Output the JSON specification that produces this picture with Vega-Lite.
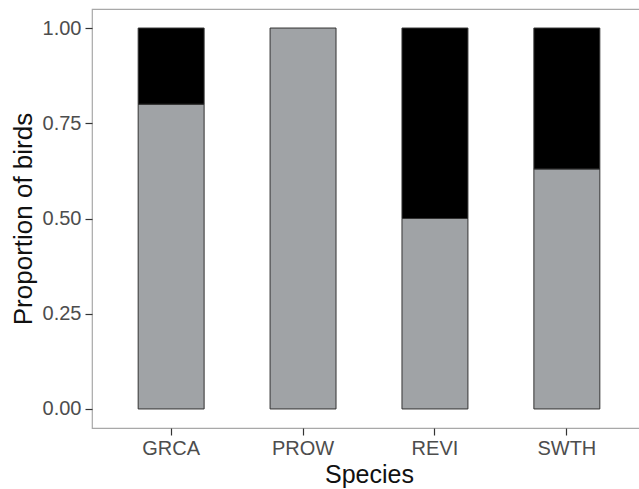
{
  "$schema": "https://vega.github.io/schema/vega-lite/v6.json",
  "width": 554,
  "height": 419,
  "autosize": {"type": "none"},
  "padding": {"left": 92, "top": 9, "right": 0, "bottom": 61},
  "background": "white",
  "config": {
    "view": {"stroke": "#a8a8a8", "strokeWidth": 1.2},
    "font": "Liberation Sans"
  },
  "data": {
    "values": [
      {"species": "GRCA", "group": "grey", "ord": 1, "proportion": 0.8},
      {"species": "GRCA", "group": "black", "ord": 2, "proportion": 0.2},
      {"species": "PROW", "group": "grey", "ord": 1, "proportion": 1.0},
      {"species": "REVI", "group": "grey", "ord": 1, "proportion": 0.5},
      {"species": "REVI", "group": "black", "ord": 2, "proportion": 0.5},
      {"species": "SWTH", "group": "grey", "ord": 1, "proportion": 0.63},
      {"species": "SWTH", "group": "black", "ord": 2, "proportion": 0.37}
    ]
  },
  "mark": {"type": "bar", "stroke": "#333333", "strokeWidth": 1},
  "encoding": {
    "x": {
      "field": "species",
      "type": "nominal",
      "scale": {"paddingInner": 0.5, "paddingOuter": 0.35},
      "axis": {
        "title": "Species",
        "labelAngle": 0,
        "labelFontSize": 20,
        "labelColor": "#4d4d4d",
        "labelPadding": 3,
        "tickSize": 7,
        "tickColor": "#333333",
        "tickWidth": 1.2,
        "domain": false,
        "titleFontSize": 25,
        "titleFontWeight": "normal",
        "titleColor": "#111111",
        "titlePadding": 4
      }
    },
    "y": {
      "field": "proportion",
      "type": "quantitative",
      "stack": "zero",
      "scale": {"domain": [-0.05, 1.05], "nice": false, "zero": false},
      "axis": {
        "title": "Proportion of birds",
        "values": [0, 0.25, 0.5, 0.75, 1],
        "format": ".2f",
        "grid": false,
        "domain": false,
        "labelFontSize": 20,
        "labelColor": "#4d4d4d",
        "labelPadding": 4,
        "tickSize": 7,
        "tickColor": "#333333",
        "tickWidth": 1.2,
        "titleFontSize": 26,
        "titleFontWeight": "normal",
        "titleColor": "#111111",
        "titlePadding": 6
      }
    },
    "color": {
      "field": "group",
      "type": "nominal",
      "scale": {"domain": ["grey", "black"], "range": ["#a0a3a6", "#000000"]},
      "legend": null
    },
    "order": {"field": "ord", "type": "quantitative"}
  }
}
